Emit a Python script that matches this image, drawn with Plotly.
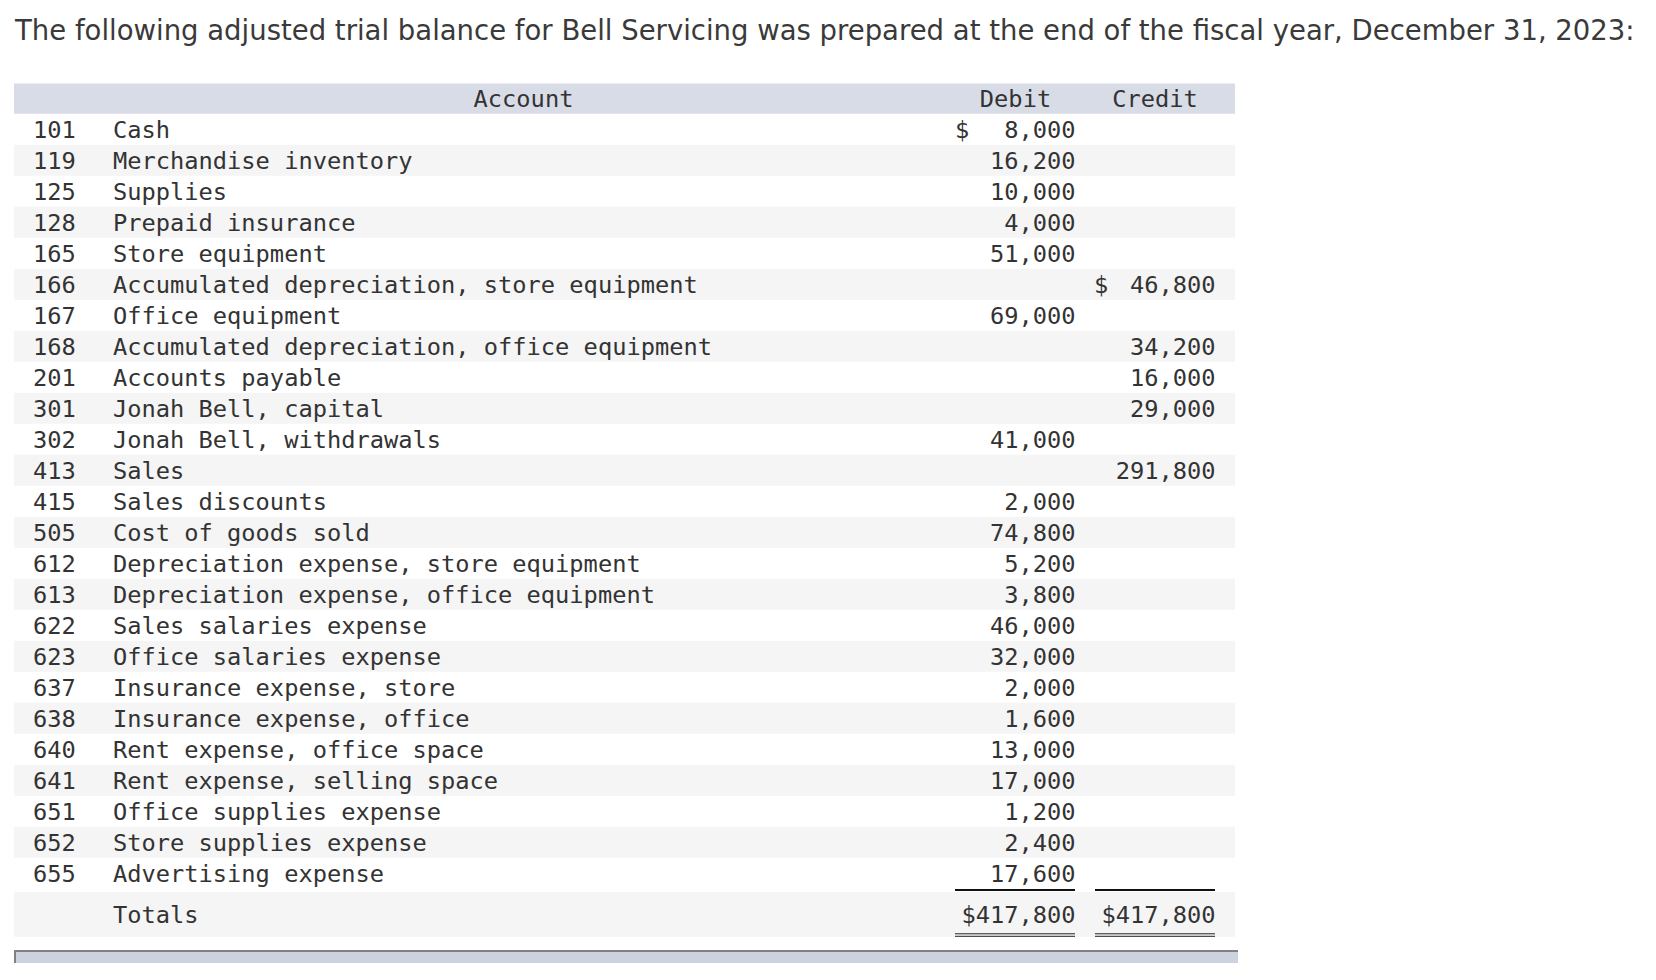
import plotly.graph_objects as go

# trial balance data
codes = ["101", "119", "125", "128", "165", "166", "167", "168", "201", "301",
         "302", "413", "415", "505", "612", "613", "622", "623", "637", "638",
         "640", "641", "651", "652", "655"]
accounts = [
    "Cash", "Merchandise inventory", "Supplies", "Prepaid insurance",
    "Store equipment", "Accumulated depreciation, store equipment",
    "Office equipment", "Accumulated depreciation, office equipment",
    "Accounts payable", "Jonah Bell, capital", "Jonah Bell, withdrawals",
    "Sales", "Sales discounts", "Cost of goods sold",
    "Depreciation expense, store equipment",
    "Depreciation expense, office equipment", "Sales salaries expense",
    "Office salaries expense", "Insurance expense, store",
    "Insurance expense, office", "Rent expense, office space",
    "Rent expense, selling space", "Office supplies expense",
    "Store supplies expense", "Advertising expense",
]
debits = [8000, 16200, 10000, 4000, 51000, None, 69000, None, None, None,
          41000, None, 2000, 74800, 5200, 3800, 46000, 32000, 2000, 1600,
          13000, 17000, 1200, 2400, 17600]
credits = [None, None, None, None, None, 46800, None, 34200, 16000, 29000,
           None, 291800, None, None, None, None, None, None, None, None,
           None, None, None, None, None]
total_debit = 417800
total_credit = 417800
headers = ["Account", "Debit", "Credit"]
title_text = ("The following adjusted trial balance for Bell Servicing was prepared "
              "at the end of the fiscal year, December 31, 2023:")

# layout constants (pixels)
W, H = 1656, 980
LEFT, RIGHT = 14, 1235
HEAD_TOP, HEAD_BOT = 83.5, 113.7
ROW_H = 31.0
TOT_TOP, TOT_BOT = 891.7, 936.7
X_CODE, X_NAME = 33, 113
X_DEB, X_CRE = 1075.5, 1215.5
DY = 2.5  # text baseline nudge
MONO = dict(family="DejaVu Sans Mono", size=23.7, color="#333333")

n = len(codes)
row_y = [HEAD_BOT + ROW_H * (i + 0.5) + DY for i in range(n)]
tot_y = (TOT_TOP + TOT_BOT) / 2 + DY


def fmt(v):
    return "" if v is None else f"{v:,}"


fig = go.Figure()

def text_trace(xs, ys, texts, pos):
    fig.add_trace(go.Scatter(x=xs, y=ys, text=texts, mode="text",
                             textposition=pos, textfont=MONO,
                             hoverinfo="skip", showlegend=False))

text_trace([X_CODE] * n, row_y, codes, "middle right")
text_trace([X_NAME] * n + [X_NAME], row_y + [tot_y], accounts + ["Totals"], "middle right")
text_trace([X_DEB] * n + [X_DEB], row_y + [tot_y],
           [fmt(v) for v in debits] + [f"${total_debit:,}"], "middle left")
text_trace([X_CRE] * n + [X_CRE], row_y + [tot_y],
           [fmt(v) for v in credits] + [f"${total_credit:,}"], "middle left")

# leading dollar signs on the first amount of each column
first_d = next(i for i, v in enumerate(debits) if v is not None)
first_c = next(i for i, v in enumerate(credits) if v is not None)
text_trace([955, 1094], [row_y[first_d], row_y[first_c]], ["$", "$"], "middle right")

head_y = (HEAD_TOP + HEAD_BOT) / 2 + DY
text_trace([523.5, 1015.5, 1155], [head_y] * 3, headers, "middle center")

shapes = [dict(type="rect", x0=LEFT, x1=RIGHT, y0=HEAD_TOP, y1=HEAD_BOT,
               fillcolor="#d8dce6", line_width=0, layer="below")]
for i in range(1, n, 2):
    shapes.append(dict(type="rect", x0=LEFT, x1=RIGHT,
                       y0=HEAD_BOT + ROW_H * i, y1=HEAD_BOT + ROW_H * (i + 1),
                       fillcolor="#f5f5f5", line_width=0, layer="below"))
shapes.append(dict(type="rect", x0=LEFT, x1=RIGHT, y0=TOT_TOP, y1=TOT_BOT,
                   fillcolor="#f5f5f5", line_width=0, layer="below"))
# total rules
for x0, x1 in [(955, 1075), (1095, 1215)]:
    shapes.append(dict(type="line", x0=x0, x1=x1, y0=890, y1=890,
                       line=dict(color="#111111", width=2)))
    for yy in (933.8, 936.3):
        shapes.append(dict(type="line", x0=x0, x1=x1, y0=yy, y1=yy,
                           line=dict(color="#222222", width=1)))
# bottom scroll bar
shapes.append(dict(type="rect", x0=LEFT, x1=1238, y0=950, y1=963,
                   fillcolor="#cdd3de", line_width=0))
shapes.append(dict(type="line", x0=LEFT, x1=1238, y0=951, y1=951,
                   line=dict(color="#7e8287", width=2)))
shapes.append(dict(type="line", x0=15, x1=15, y0=950, y1=963,
                   line=dict(color="#7e8287", width=2)))

fig.update_layout(
    width=W, height=H,
    margin=dict(l=0, r=0, t=0, b=0),
    paper_bgcolor="white", plot_bgcolor="white",
    shapes=shapes,
    xaxis=dict(range=[0, W], visible=False, fixedrange=True),
    yaxis=dict(range=[H, 0], visible=False, fixedrange=True),
    title=dict(text=title_text, x=15 / W, xanchor="left", y=1 - 30.5 / H,
               yanchor="middle", font=dict(family="DejaVu Sans", size=27.5, color="#3a3a3a")),
)

fig.write_html("out.html", config={"displayModeBar": False},
               post_script="document.body.style.margin='0';")
